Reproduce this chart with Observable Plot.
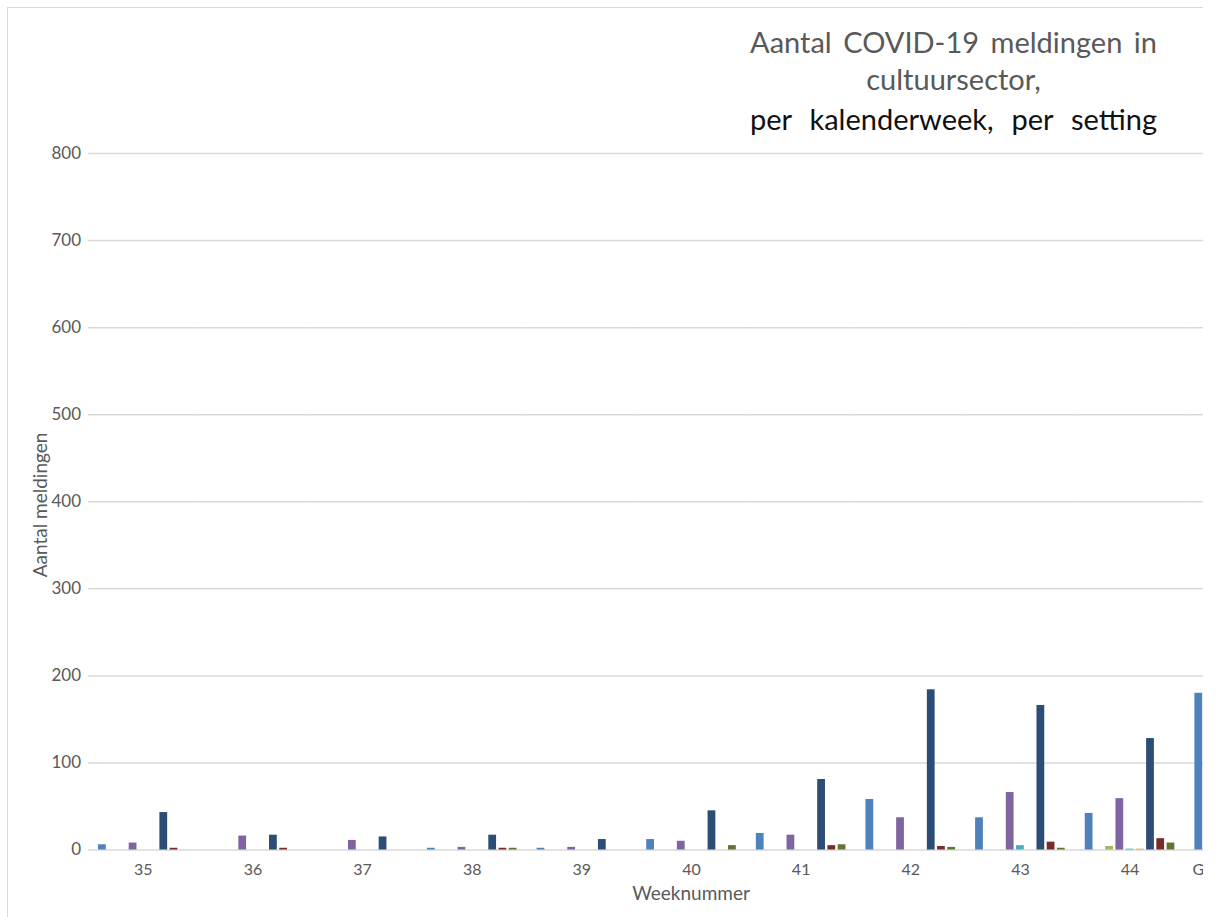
<!DOCTYPE html>
<html>
<head>
<meta charset="utf-8">
<script src="https://cdn.jsdelivr.net/npm/d3@7"></script>
<script src="https://cdn.jsdelivr.net/npm/@observablehq/plot@0.6"></script>
<style>
  html, body { margin: 0; padding: 0; background: #fff; }
  body { width: 1216px; height: 917px; position: relative; overflow: hidden; font-family: Lato, "Open Sans", sans-serif; }
  #frame { position: absolute; left: 7px; top: 7px; width: 1195px; height: 910px; overflow: hidden;
           border-left: 1px solid #d9d9d9; border-top: 1px solid #d9d9d9; background: #fff; }
  #chart { position: absolute; left: 0; top: 0; }
  #chart svg { max-width: none !important; }
  .tl { position: absolute; left: 742px; width: 407px; font-size: 29px; line-height: 38px; white-space: nowrap; }
  .tl span { display: inline-block; }
  #ylab { position: absolute; font-size: 19px; color: #595959; white-space: nowrap;
          transform: translate(-50%, -50%) rotate(-90deg); line-height: 19px; }
  #xlab { position: absolute; font-size: 19px; color: #595959; white-space: nowrap;
          transform: translateX(-50%); line-height: 19px; }
</style>
</head>
<body>
<div id="frame">
  <div id="chart"></div>
  <div class="tl just" id="t1" style="top:15px;color:#595959"><span>Aantal COVID-19 meldingen in</span></div>
  <div class="tl" id="t2" style="top:52px;color:#595959;text-align:center"><span>cultuursector,</span></div>
  <div class="tl just" id="t3" style="top:92px;color:#111"><span>per kalenderweek, per setting</span></div>
  <div id="ylab">Aantal meldingen</div>
  <div id="xlab">Weeknummer</div>
</div>
<script>
// Categories (week numbers; last one is the total, clipped at the right edge)
const weeks = ["35", "36", "37", "38", "39", "40", "41", "42", "43", "44", "Grand Total"];
const weekTicks = ["35", "36", "37", "38", "39", "40", "41", "42", "43", "44"];
const totalLabel = ["Grand Total"];

// Series (settings) in Excel order
const seriesNames = ["Setting 1", "Setting 2", "Setting 3", "Setting 4", "Setting 5",
                     "Setting 6", "Setting 7", "Setting 8", "Setting 9"];
const seriesColors = ["#4F81BD", "#C0504D", "#9BBB59", "#8064A2", "#4BACC6",
                      "#F79646", "#2C4D75", "#772C2A", "#5F7530"];

// Values per series, one value per week
const setting1 = [6, 0, 0, 2, 2, 12, 19, 58, 37, 42, 180];
const setting2 = [0, 0, 0, 0, 0, 0, 0, 0, 0, 0, 0];
const setting3 = [0, 0, 0, 0, 0, 0, 0, 0, 0, 4, 4];
const setting4 = [8, 16, 11, 3, 3, 10, 17, 37, 66, 59, 230];
const setting5 = [0, 0, 0, 0, 0, 0, 0, 0, 5, 1, 6];
const setting6 = [0, 0, 0, 0, 0, 0, 0, 0, 0, 1, 1];
const setting7 = [43, 17, 15, 17, 12, 45, 81, 184, 166, 128, 708];
const setting8 = [2, 2, 0, 2, 0, 0, 5, 4, 9, 13, 37];
const setting9 = [0, 0, 0, 2, 0, 5, 6, 3, 2, 8, 26];

const yTicks = [0, 100, 200, 300, 400, 500, 600, 700, 800];

const seriesValues = [setting1, setting2, setting3, setting4, setting5,
                      setting6, setting7, setting8, setting9];
const data = [];
weeks.forEach((w, i) => {
  seriesNames.forEach((s, j) => {
    data.push({week: w, series: s, value: seriesValues[j][i]});
  });
});

const chart = Plot.plot({
  width: 1290,
  height: 909,
  marginTop: 145,
  marginBottom: 67.5,
  marginLeft: 80,
  marginRight: 4,
  style: {fontFamily: "Lato, 'Open Sans', sans-serif", background: "transparent", color: "#595959", maxWidth: "none", overflow: "visible"},
  fx: {domain: weeks, paddingInner: 0.138, paddingOuter: 0.069, round: false, axis: null, label: null},
  x: {domain: seriesNames, padding: 0.24, round: false, axis: null},
  y: {domain: [0, 800], axis: null},
  color: {domain: seriesNames, range: seriesColors},
  marks: [
    Plot.ruleY(yTicks, {stroke: "#d9d9d9", strokeWidth: 1.5, insetLeft: -7.6, insetRight: -7.6}),
    Plot.barY(data, {fx: "week", x: "series", y: "value", fill: "series"}),
    Plot.axisY(yTicks, {tickSize: 0, tickPadding: 15, fontSize: 17, fill: "#595959", label: null}),
    Plot.axisFx({ticks: weekTicks, anchor: "bottom", tickSize: 0, tickPadding: 14, fontSize: 16, fill: "#595959", label: null}),
    Plot.text(totalLabel, {fx: d => d, text: d => d, frameAnchor: "bottom", lineAnchor: "top",
                           dy: 14, dx: -7, fontSize: 16, fill: "#595959"})
  ]
});
document.getElementById("chart").appendChild(chart);

// Axis titles positioned from the plot's own scales
const ys = chart.scale("y");
const xl = document.getElementById("xlab");
xl.style.left = ((80 + 1286) / 2) + "px";
xl.style.top = "875px";
const yl = document.getElementById("ylab");
yl.style.left = "31px";
yl.style.top = ((ys.apply(0) + ys.apply(800)) / 2 + 4) + "px";

// Justify title lines across a fixed width
document.querySelectorAll(".just").forEach(el => {
  const span = el.querySelector("span");
  const w = span.getBoundingClientRect().width;
  const n = (span.textContent.match(/ /g) || []).length;
  el.style.wordSpacing = ((407 - w) / n) + "px";
});
</script>
</body>
</html>
